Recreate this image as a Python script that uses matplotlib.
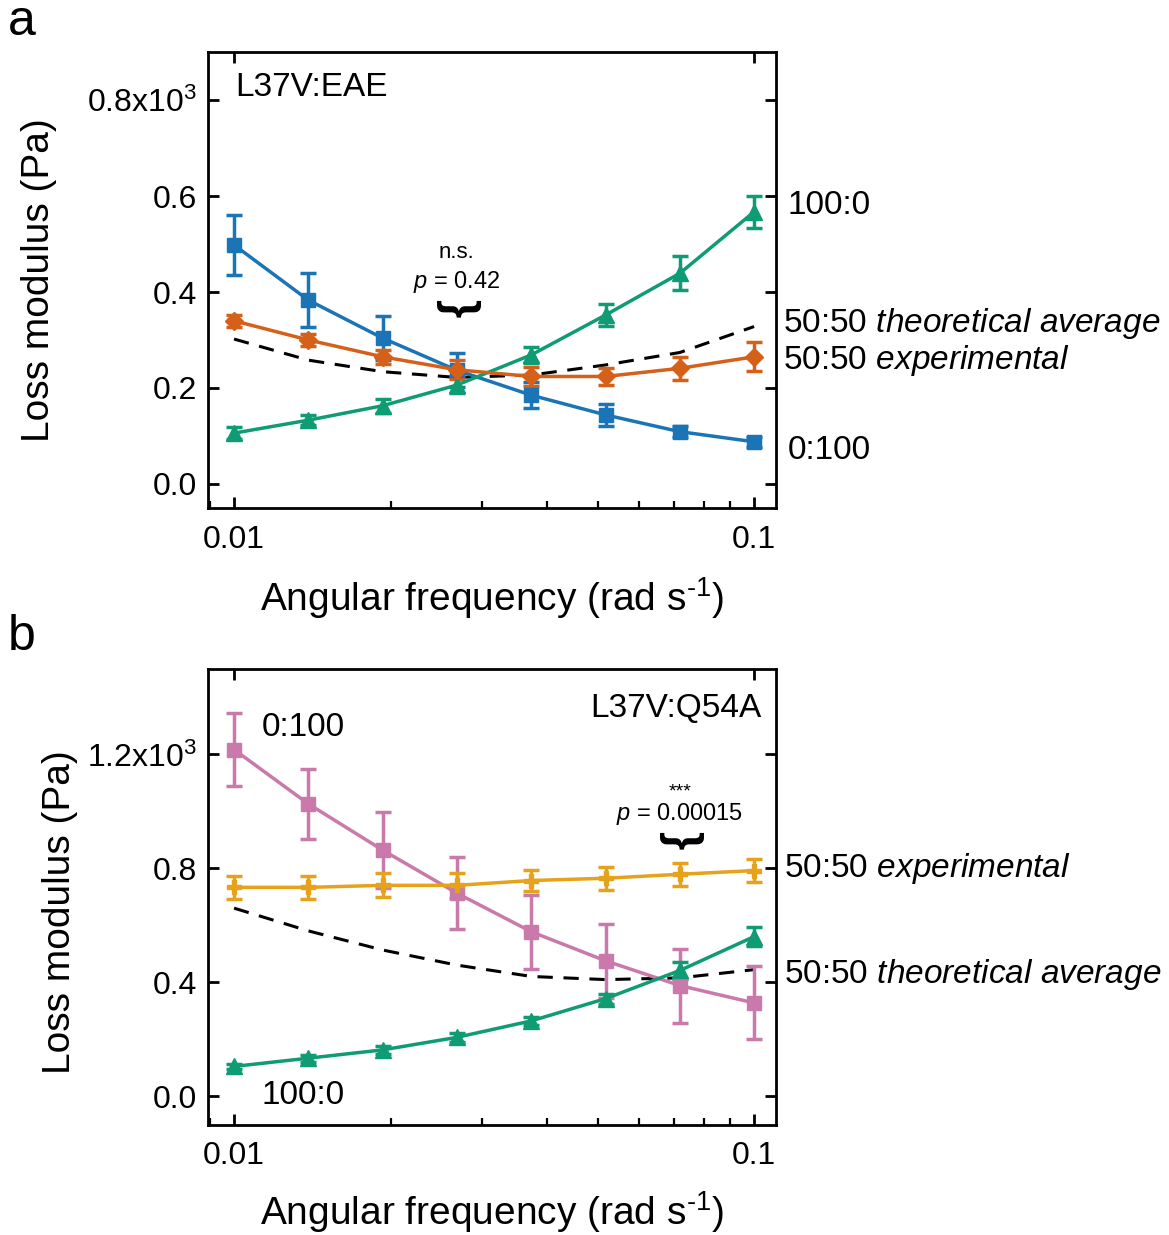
import numpy as np
import matplotlib
matplotlib.use("Agg")
import matplotlib.pyplot as plt
from matplotlib.ticker import FixedLocator, LogLocator, NullFormatter, FixedFormatter
from matplotlib.transforms import blended_transform_factory

plt.rcParams['font.family'] = ['Liberation Sans', 'DejaVu Sans']
plt.rcParams['mathtext.fontset'] = 'custom'
plt.rcParams['mathtext.rm'] = 'Liberation Sans'
plt.rcParams['mathtext.it'] = 'Liberation Sans:italic'
plt.rcParams['mathtext.bf'] = 'Liberation Sans:bold'
plt.rcParams['axes.unicode_minus'] = False

# ---------------- data ----------------
freq = [0.01, 0.0139, 0.0193, 0.0268, 0.0373, 0.0518, 0.0720, 0.1]

# panel a: L37V:EAE
a_0_100 = [0.498, 0.383, 0.304, 0.237, 0.185, 0.144, 0.109, 0.088]
a_0_100_err = [0.063, 0.056, 0.045, 0.035, 0.027, 0.023, 0.012, 0.010]
a_100_0 = [0.106, 0.133, 0.163, 0.206, 0.269, 0.352, 0.439, 0.567]
a_100_0_err = [0.012, 0.010, 0.015, 0.017, 0.017, 0.022, 0.035, 0.034]
a_50_exp = [0.340, 0.300, 0.265, 0.238, 0.224, 0.224, 0.241, 0.265]
a_50_exp_err = [0.012, 0.012, 0.015, 0.020, 0.020, 0.018, 0.024, 0.030]
a_50_theo = [0.302, 0.258, 0.234, 0.222, 0.227, 0.248, 0.274, 0.328]

# panel b: L37V:Q54A
b_0_100 = [1.217, 1.026, 0.864, 0.713, 0.577, 0.475, 0.388, 0.327]
b_0_100_err = [0.127, 0.123, 0.135, 0.125, 0.130, 0.130, 0.130, 0.128]
b_100_0 = [0.104, 0.133, 0.162, 0.206, 0.264, 0.342, 0.441, 0.560]
b_100_0_err = [0.010, 0.012, 0.015, 0.015, 0.015, 0.017, 0.030, 0.032]
b_50_exp = [0.733, 0.733, 0.740, 0.740, 0.757, 0.765, 0.779, 0.792]
b_50_exp_err = [0.040, 0.040, 0.042, 0.045, 0.037, 0.040, 0.040, 0.040]
b_50_theo = [0.660, 0.580, 0.513, 0.460, 0.420, 0.409, 0.415, 0.444]

a_yticks = [0.0, 0.2, 0.4, 0.6, 0.8]
a_yticklabels = ['0.0', '0.2', '0.4', '0.6', '0.8x10$^3$']
b_yticks = [0.0, 0.4, 0.8, 1.2]
b_yticklabels = ['0.0', '0.4', '0.8', '1.2x10$^3$']
xticks = [0.01, 0.1]
xticklabels = ['0.01', '0.1']

C_BLUE = '#1a74b6'
C_GREEN = '#0f9b73'
C_VERM = '#d4601a'
C_PINK = '#c97aaa'
C_YELLOW = '#e5a21a'

W, H = 1169, 1235
fig = plt.figure(figsize=(W / 100, H / 100), dpi=100)

def px_axes(left, top, right, bottom):
    return fig.add_axes([left / W, 1 - bottom / H, (right - left) / W, (bottom - top) / H])

axa = px_axes(208, 52, 776, 508)
axb = px_axes(208, 669, 776, 1124.5)

def style(ax, ylim, yt, ytl):
    ax.set_xscale('log')
    ax.set_xlim(0.00891, 0.1102)
    ax.set_ylim(*ylim)
    for s in ax.spines.values():
        s.set_linewidth(2.0)
    ax.set_yticks(yt)
    ax.set_yticklabels(ytl)
    ax.xaxis.set_major_locator(FixedLocator(xticks))
    ax.xaxis.set_major_formatter(FixedFormatter(xticklabels))
    ax.xaxis.set_minor_locator(LogLocator(base=10, subs=np.arange(2, 10)))
    ax.xaxis.set_minor_formatter(NullFormatter())
    ax.tick_params(axis='both', which='major', direction='in', length=8, width=2.0,
                   labelsize=23, top=True, right=True, pad=8)
    ax.tick_params(axis='x', which='major', pad=12)
    ax.tick_params(axis='x', which='minor', direction='in', length=5, width=1.6,
                   top=False, bottom=True)
    ax.set_xlabel('Angular frequency (rad s$^{\\text{-1}}$)', fontsize=28)
    ax.set_ylabel('Loss modulus (Pa)', fontsize=28)

style(axa, (-0.05, 0.9), a_yticks, a_yticklabels)
style(axb, (-0.1, 1.5), b_yticks, b_yticklabels)

axa.xaxis.set_label_coords(0.5, -0.148)
axa.yaxis.set_label_coords(-0.265, 0.5)
axb.xaxis.set_label_coords(0.5, -0.142)
axb.yaxis.set_label_coords(-0.229, 0.466)

def series(ax, y, err, color, marker, ms):
    ax.errorbar(freq, y, yerr=err, color=color, marker=marker, ms=ms, lw=2.5,
                elinewidth=2.5, capsize=6, capthick=2.5, mec=color, mfc=color, zorder=3)

def theo(ax, y):
    ln, = ax.plot(freq, y, color='black', lw=2.2, zorder=2)
    ln.set_dashes([5, 3.5])

# panel a
theo(axa, a_50_theo)
series(axa, a_0_100, a_0_100_err, C_BLUE, 's', 10)
series(axa, a_100_0, a_100_0_err, C_GREEN, '^', 11.5)
series(axa, a_50_exp, a_50_exp_err, C_VERM, 'D', 9.5)

# panel b
theo(axb, b_50_theo)
series(axb, b_0_100, b_0_100_err, C_PINK, 's', 10)
series(axb, b_100_0, b_100_0_err, C_GREEN, '^', 11.5)
series(axb, b_50_exp, b_50_exp_err, C_YELLOW, 'P', 10)

# labels outside on the right
ta = blended_transform_factory(axa.transAxes, axa.transData)
axa.text(1.021, 0.581, '100:0', transform=ta, fontsize=24, va='center', ha='left')
axa.text(1.012, 0.335, '50:50 $\\mathit{theoretical\\ average}$', transform=ta,
         fontsize=24, va='center', ha='left')
axa.text(1.012, 0.258, '50:50 $\\mathit{experimental}$', transform=ta,
         fontsize=24, va='center', ha='left')
axa.text(1.021, 0.069, '0:100', transform=ta, fontsize=24, va='center', ha='left')

tb = blended_transform_factory(axb.transAxes, axb.transData)
axb.text(1.014, 0.800, '50:50 $\\mathit{experimental}$', transform=tb,
         fontsize=24, va='center', ha='left')
axb.text(1.014, 0.428, '50:50 $\\mathit{theoretical\\ average}$', transform=tb,
         fontsize=24, va='center', ha='left')

# labels inside
axa.text(0.048, 0.827, 'L37V:EAE', transform=ta, fontsize=24, va='center', ha='left')
axb.text(0.975, 1.36, 'L37V:Q54A', transform=tb, fontsize=24, va='center', ha='right')
axb.text(0.095, 1.295, '0:100', transform=tb, fontsize=24, va='center', ha='left')
axb.text(0.095, 0.003, '100:0', transform=tb, fontsize=24, va='center', ha='left')

# significance annotations
axa.text(freq[3], 0.483, 'n.s.', fontsize=16, ha='center', va='center')
axa.text(freq[3], 0.421, '$\\mathit{p}$ = 0.42', fontsize=17, ha='center', va='center')
axa.text(freq[3], 0.366, '}', fontsize=34, fontweight='bold', rotation=-90,
         ha='center', va='center')

axb.text(freq[6], 1.068, '***', fontsize=14, ha='center', va='center')
axb.text(freq[6], 0.99, '$\\mathit{p}$ = 0.00015', fontsize=17, ha='center', va='center')
axb.text(freq[6], 0.900, '}', fontsize=34, fontweight='bold', rotation=-90,
         ha='center', va='center')

# panel letters
fig.text(8 / W, 1 - 22 / H, 'a', fontsize=36, ha='left', va='center')
fig.text(8 / W, 1 - 637 / H, 'b', fontsize=36, ha='left', va='center')

fig.savefig('out.png', dpi=100)
